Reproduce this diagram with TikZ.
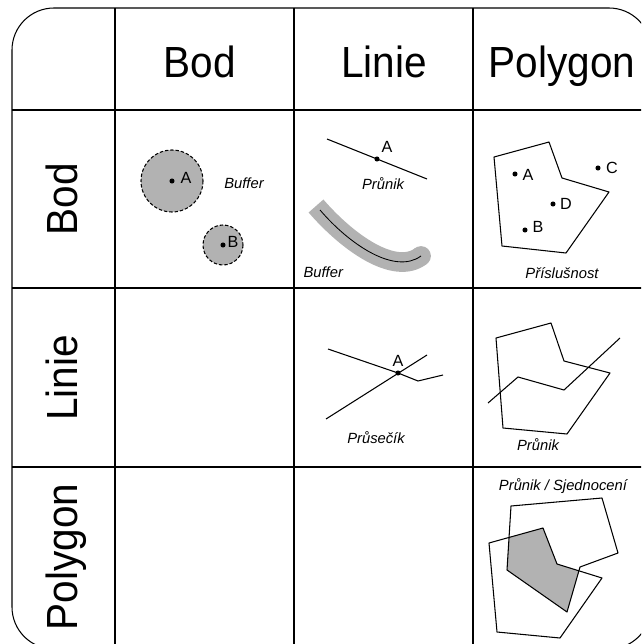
\documentclass[tikz,border=0pt]{standalone}
\usepackage{fontspec}
\setmainfont{Liberation Sans}
\newfontfamily\headfont{Liberation Sans}[FakeStretch=0.93]
\begin{document}
\begin{tikzpicture}
  [x=0.025cm,y=-0.025cm,line width=0.75pt,line join=round,
   head/.style={font=\headfont\fontsize{31}{31}\selectfont,inner sep=0pt},
   lbl/.style={font=\fontsize{11.5}{12}\selectfont,inner sep=0pt},
   capt/.style={font=\fontsize{10.5}{12}\selectfont\itshape,inner sep=0pt},
   pt/.style={circle,fill,inner sep=0pt,minimum size=3.6pt},
   buf/.style={draw,fill=black!30,dash pattern=on 2.4pt off 1.4pt}]
\useasboundingbox (0,0) rectangle (641,644);
\clip (0,0) rectangle (641,644);

\draw [rounded corners=1.05cm] (12,8) rectangle (651,649);
\draw (115,8) -- (115,649) (294,8) -- (294,649) (473,8) -- (473,649)
      (12,110) -- (651,110) (12,288) -- (651,288) (12,467) -- (651,467);

\node [head,anchor=base] (hb) at (200,77) {Bod};
\node [head,anchor=base] (hl) at (384,77) {Linie};
\node [head,anchor=base] (hp) at (562,77) {Polygon};
\node [head,anchor=base,rotate=90] (rb) at (77,199) {Bod};
\node [head,anchor=base,rotate=90] (rl) at (77,378) {Linie};
\node [head,anchor=base,rotate=90] (rp) at (77,557) {Polygon};

\draw [buf] (172,181) circle [radius=31];
\draw [buf] (223,245) circle [radius=20];
\node [pt] (pa) at (172,181) {};
\node [lbl] (la) at (186,178) {A};
\node [pt] (pb) at (223,245) {};
\node [lbl] (lb) at (233,242) {B};
\node [capt] (c11) at (244,183) {Buffer};

\draw (327,139) -- (427,179);
\node [pt] (pl) at (377,159) {};
\node [lbl] (ll) at (387,147) {A};
\node [capt] (c12) at (383,184) {Průnik};
\draw [black!30,line width=14pt] (316,206) .. controls (348,243) and (395,276) .. (421,256);
\fill [black!30] (421,256) circle [radius=9.9];
\draw [line width=0.6pt] (320,210) .. controls (350,245) and (395,275) .. (421,256);
\node [capt,anchor=west] (c12b) at (303,272) {Buffer};

\draw (494,157) -- (549,142) -- (562,178) -- (609,192) -- (566,253) -- (502,246) -- cycle;
\node [pt] (qa) at (515,174) {};
\node [lbl] at (528,175) {A};
\node [pt] (qc) at (598,168) {};
\node [lbl] at (612,168) {C};
\node [pt] (qd) at (553,204) {};
\node [lbl] at (566,204) {D};
\node [pt] (qb) at (525,230) {};
\node [lbl] at (538,227) {B};
\node [capt] (c13) at (562,273) {Příslušnost};

\draw (328,349) -- (398,373) -- (418,381) -- (443,375);
\draw (326,419) -- (427,355);
\node [pt] (px) at (398,373) {};
\node [lbl] at (398,361) {A};
\node [capt] (c22) at (376,438) {Průsečík};

\draw (496,338) -- (551,323) -- (564,361) -- (610,373) -- (567,434) -- (503,428) -- cycle;
\draw (488,403) -- (518,377) -- (564,390) -- (620,338);
\node [capt] (c23) at (538,445) {Průnik};

\node [capt] (c33) at (563,486) {Průnik / Sjednocení};
\begin{scope}
  \clip (511,506) -- (602,498) -- (618,553) -- (580,567) -- (567,612) -- (507,570) -- cycle;
  \fill [black!30] (489,543) -- (543,528) -- (557,564) -- (602,578) -- (560,638) -- (497,632) -- cycle;
\end{scope}
\draw (511,506) -- (602,498) -- (618,553) -- (580,567) -- (567,612) -- (507,570) -- cycle;
\draw (489,543) -- (543,528) -- (557,564) -- (602,578) -- (560,638) -- (497,632) -- cycle;
\end{tikzpicture}
\end{document}
